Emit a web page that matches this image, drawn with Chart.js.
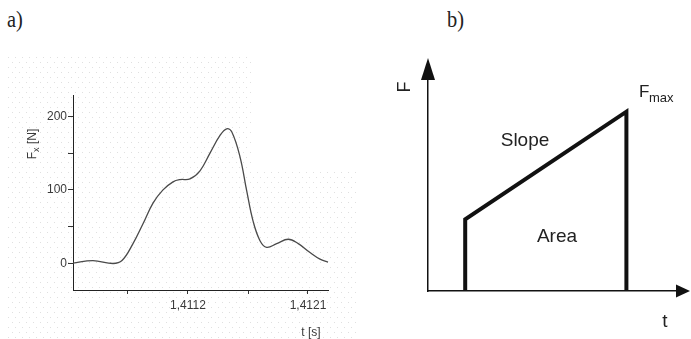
<!DOCTYPE html>
<html>
<head>
<meta charset="utf-8">
<script src="https://cdn.jsdelivr.net/npm/chart.js@4.4.0/dist/chart.umd.min.js"></script>
<style>
  html, body { margin: 0; padding: 0; background: #fff; }
  body { width: 691px; height: 339px; position: relative; overflow: hidden; }
  canvas { position: absolute; top: 0; }
  #chartA { left: 0; }
  #chartB { left: 380px; }
  .tag { position: absolute; top: 4px; font-family: "Liberation Serif", "Times New Roman", serif;
         font-size: 24px; line-height: 30px; color: #222; transform: scaleX(0.85); transform-origin: left; }
</style>
</head>
<body>
<div class="tag" style="left:7px">a)</div>
<div class="tag" style="left:447px">b)</div>
<canvas id="chartA" width="360" height="339"></canvas>
<canvas id="chartB" width="311" height="339"></canvas>
<script>
// measured force signal
const times = [
  1.4103375, 1.4104875, 1.4106375, 1.410705, 1.4107875, 1.4108625, 1.4109375,
  1.4110125, 1.4110875, 1.41114, 1.411215, 1.41129, 1.411365, 1.41144, 1.41149,
  1.411528, 1.41159, 1.41164, 1.4116875, 1.41174, 1.41179, 1.411865, 1.411952,
  1.412027, 1.412115, 1.41219, 1.41225
]
const force = [
  0.5, 4, 0, 4, 27, 54, 82,
  100, 111, 114, 115, 126, 150, 174, 183,
  179, 145, 99, 58, 31, 22, 27, 33,
  27, 15, 6, 2
]
const xTickValues = [1.41075, 1.4112, 1.41165, 1.4121]
const xTickLabels = ['', '1,4112', '', '1,4121']
const yTickValues = [0, 50, 100, 150, 200]
const yTickLabels = ['0', '', '100', '', '200']

// schematic impulse shape: rise, slope up to Fmax, drop
const shapeT = [1.5, 1.5, 8, 8]
const shapeF = [0, 3.4, 8.5, 0]

const tickFont = { family: 'Arial, "Liberation Sans", sans-serif', size: 12 }

// faint dotted paper texture behind panel a
const dotsBg = {
  id: 'dotsBg',
  beforeDraw(chart) {
    const c = chart.ctx
    c.save()
    c.fillStyle = '#e0e0e0'
    let row = 0
    for (let y = 57; y < 339; y += 5, row++) {
      const xEnd = y < 172 ? 250 : 356
      for (let x = 8 + (row % 2) * 3.5; x < xEnd; x += 7) {
        c.fillRect(Math.round(x), y, 1, 1)
      }
    }
    c.restore()
  }
}

const titlesA = {
  id: 'titlesA',
  afterDraw(chart) {
    const c = chart.ctx
    c.save()
    c.fillStyle = '#3a3a3a'
    c.font = '12px Arial, "Liberation Sans", sans-serif'
    c.textBaseline = 'alphabetic'
    // y title, rotated, with subscript
    c.translate(36, 144)
    c.rotate(-Math.PI / 2)
    const w1 = c.measureText('F').width
    c.font = '9px Arial, "Liberation Sans", sans-serif'
    const w2 = c.measureText('x').width
    c.font = '12px Arial, "Liberation Sans", sans-serif'
    const w3 = c.measureText(' [N]').width
    let x0 = -(w1 + w2 + w3) / 2
    c.fillText('F', x0, 0)
    c.font = '9px Arial, "Liberation Sans", sans-serif'
    c.fillText('x', x0 + w1, 3)
    c.font = '12px Arial, "Liberation Sans", sans-serif'
    c.fillText(' [N]', x0 + w1 + w2, 0)
    c.restore()

    c.save()
    c.fillStyle = '#3a3a3a'
    c.font = '12px Arial, "Liberation Sans", sans-serif'
    c.textAlign = 'center'
    c.fillText('t [s]', 311, 336)
    c.restore()
  }
}

new Chart(document.getElementById('chartA'), {
  type: 'line',
  data: {
    datasets: [{
      data: times.map((t, i) => ({ x: t, y: force[i] })),
      borderColor: '#4a4a4a',
      borderWidth: 1.3,
      pointRadius: 0,
      tension: 0.4,
      clip: false
    }]
  },
  options: {
    responsive: false,
    animation: false,
    layout: { padding: { left: 0, top: 95, right: 32, bottom: 0 } },
    plugins: { legend: { display: false }, tooltip: { enabled: false } },
    scales: {
      x: {
        type: 'linear',
        min: 1.4103375,
        max: 1.41225,
        afterBuildTicks: s => { s.ticks = xTickValues.map(v => ({ value: v })) },
        afterFit: s => { s.height = 49 },
        ticks: {
          autoSkip: false, maxRotation: 0, padding: 4,
          font: tickFont, color: '#3a3a3a',
          callback: (v, i) => xTickLabels[i]
        },
        grid: { drawOnChartArea: false, tickLength: 4, color: '#333' },
        border: { color: '#222', width: 1 }
      },
      y: {
        min: -36,
        max: 229,
        afterBuildTicks: s => { s.ticks = yTickValues.map(v => ({ value: v })) },
        afterFit: s => { s.width = 73 },
        ticks: {
          autoSkip: false, padding: 1,
          font: tickFont, color: '#3a3a3a',
          callback: (v, i) => yTickLabels[i]
        },
        grid: { drawOnChartArea: false, tickLength: 5, color: '#333' },
        border: { color: '#222', width: 1 }
      }
    }
  },
  plugins: [dotsBg, titlesA]
})

// arrows and annotations for panel b
const sketchB = {
  id: 'sketchB',
  afterDraw(chart) {
    const c = chart.ctx
    const a = chart.chartArea
    c.save()
    c.fillStyle = '#111'
    // arrow on F axis
    c.beginPath()
    c.moveTo(a.left, a.top - 22)
    c.lineTo(a.left - 7, a.top)
    c.lineTo(a.left + 7, a.top)
    c.closePath()
    c.fill()
    // arrow on t axis
    c.beginPath()
    c.moveTo(a.right + 14, a.bottom)
    c.lineTo(a.right, a.bottom - 6.5)
    c.lineTo(a.right, a.bottom + 6.5)
    c.closePath()
    c.fill()

    c.fillStyle = '#222'
    c.font = '19px Arial, "Liberation Sans", sans-serif'
    c.textAlign = 'center'
    c.fillText('Slope', 145, 146)
    c.fillText('Area', 177, 242)
    c.fillText('t', 285, 327)
    c.textAlign = 'left'
    c.font = '17px Arial, "Liberation Sans", sans-serif'
    c.fillText('F', 259, 97)
    c.font = '13px Arial, "Liberation Sans", sans-serif'
    c.fillText('max', 269, 102)

    c.translate(30, 87)
    c.rotate(-Math.PI / 2)
    c.textAlign = 'center'
    c.font = '18px Arial, "Liberation Sans", sans-serif'
    c.fillText('F', 0, 0)
    c.restore()
  }
}

new Chart(document.getElementById('chartB'), {
  type: 'scatter',
  data: {
    datasets: [{
      data: shapeT.map((t, i) => ({ x: t, y: shapeF[i] })),
      showLine: true,
      borderColor: '#111',
      borderWidth: 4,
      borderJoinStyle: 'miter',
      pointRadius: 0,
      clip: false
    }]
  },
  options: {
    responsive: false,
    animation: false,
    layout: { padding: { left: 0, top: 80, right: 15, bottom: 0 } },
    plugins: { legend: { display: false }, tooltip: { enabled: false } },
    scales: {
      x: {
        type: 'linear', min: 0, max: 10,
        afterFit: s => { s.height = 48 },
        ticks: { display: false },
        grid: { display: false },
        border: { color: '#111', width: 1.5 }
      },
      y: {
        min: 0, max: 10,
        afterFit: s => { s.width = 48 },
        ticks: { display: false },
        grid: { display: false },
        border: { color: '#111', width: 1.5 }
      }
    }
  },
  plugins: [sketchB]
})
</script>
</body>
</html>
